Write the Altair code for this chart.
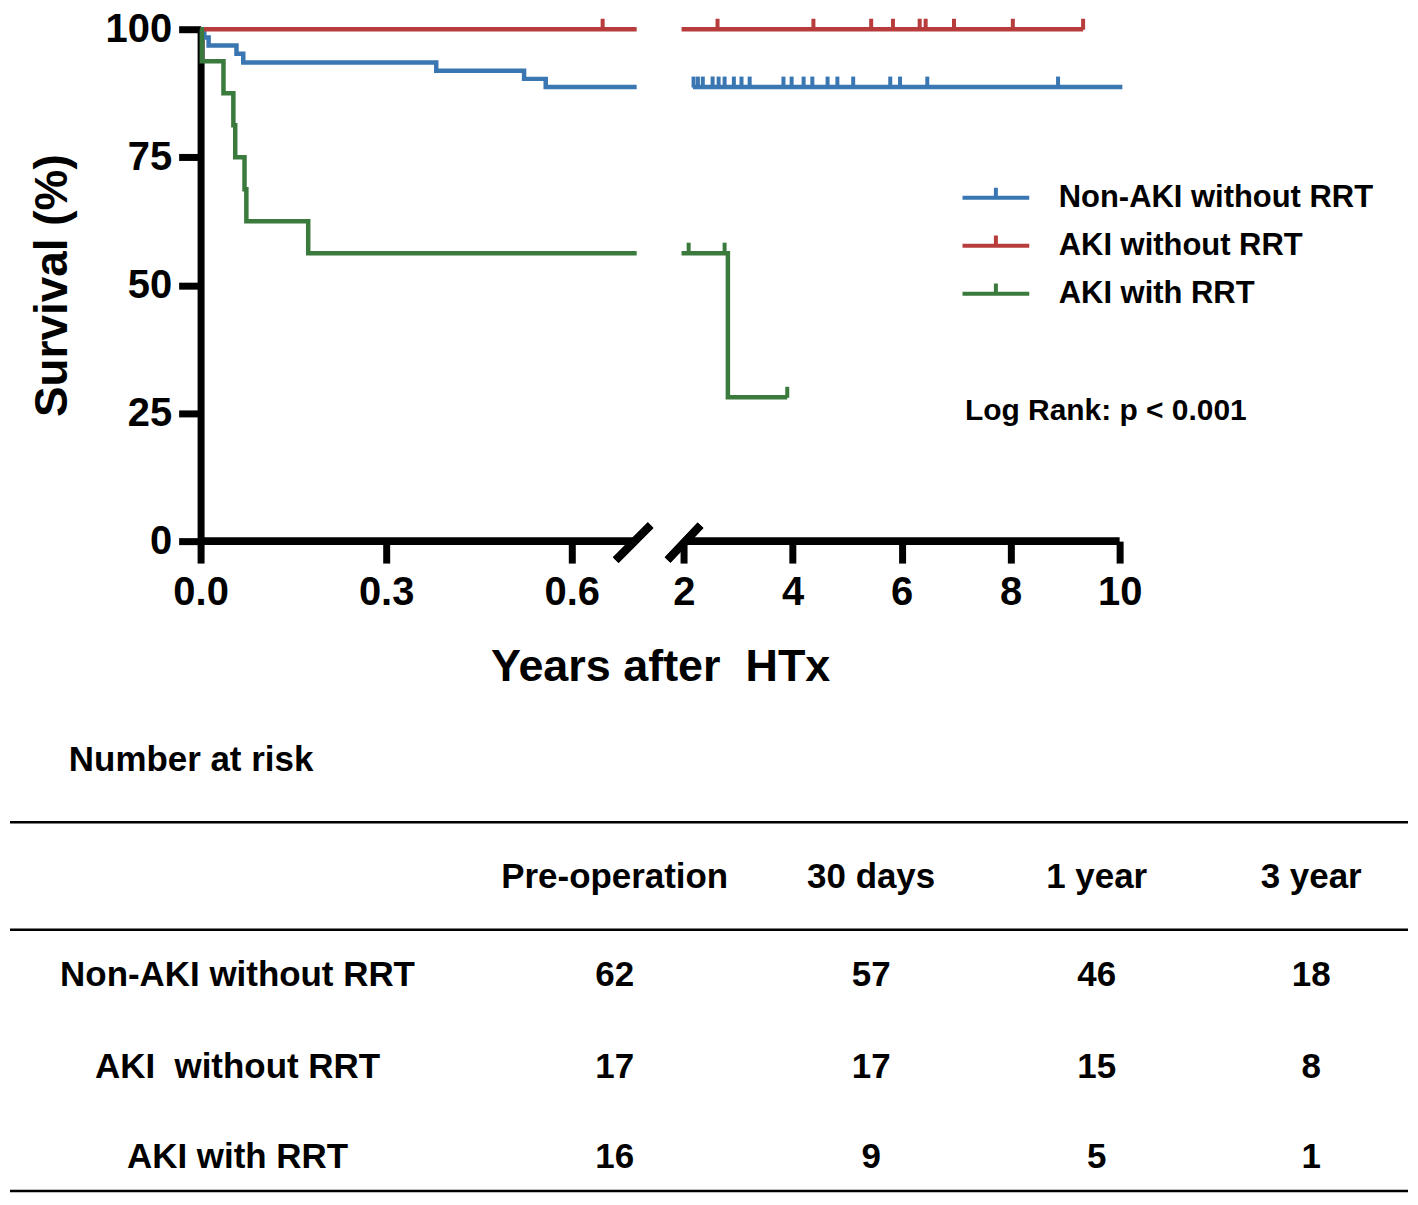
import altair as alt
import pandas as pd

FONT = "Liberation Sans"

# ---------------- data ----------------
groups = ["Non-AKI without RRT", "AKI without RRT", "AKI with RRT"]
colors = ["#3A77B2", "#B83C3C", "#3B7A3D"]

# Kaplan-Meier step curves: years after HTx, survival (%)
# left part of the broken axis (0 - 0.705 y) and right part (after the break)
nonaki_left_t = [0, 0.006, 0.013, 0.058, 0.069, 0.381, 0.523, 0.558, 0.705]
nonaki_left_s = [100, 98.4, 96.8, 95.2, 93.5, 91.9, 90.3, 88.7, 88.7]
nonaki_right_t = [2.17, 10.05]
nonaki_right_s = [88.7, 88.7]
nonaki_cens_t = [2.18, 2.26, 2.35, 2.53, 2.64, 2.75, 2.92, 3.06, 3.21, 3.83,
                 3.98, 4.20, 4.36, 4.64, 4.82, 5.11, 5.79, 5.97, 6.47, 8.87]
nonaki_cens_s = [88.7] * len(nonaki_cens_t)

aki_left_t = [0, 0.705]
aki_left_s = [100, 100]
aki_right_t = [1.96, 9.33]
aki_right_s = [100, 100]
aki_cens_t = [0.65, 2.62, 4.38, 5.44, 5.84, 6.33, 6.44, 6.96, 8.04, 9.33]
aki_cens_s = [100] * len(aki_cens_t)

rrt_left_t = [0, 0.002, 0.037, 0.053, 0.056, 0.071, 0.074, 0.174, 0.705]
rrt_left_s = [100, 93.75, 87.5, 81.25, 75, 68.75, 62.5, 56.25, 56.25]
rrt_right_t = [1.96, 2.81, 3.9]
rrt_right_s = [56.25, 28.1, 28.1]
rrt_cens_t = [2.09, 2.75, 3.9]
rrt_cens_s = [56.25, 56.25, 28.1]

x_ticks = [0, 0.3, 0.6, 2, 4, 6, 8, 10]
y_ticks = [0, 25, 50, 75, 100]

# axis line pieces on both sides of the break (years)
axis_seg_start = [0, 2.05]
axis_seg_end = [0.702, 10]

logrank_text = "Log Rank: p < 0.001"
logrank_pos = (7.16, 25.4)

# number at risk table
col_headers = ["Pre-operation", "30 days", "1 year", "3 year"]
row_labels = ["Non-AKI without RRT", "AKI\u00a0 without RRT", "AKI with RRT"]
at_risk = [[62, 57, 46, 18],
           [17, 17, 15, 8],
           [16, 9, 5, 1]]
table_title = "Number at risk"

# ---------------- build tables ----------------
curve_rows = []
cens_rows = []
curve_sets = [
    (groups[0], [(nonaki_left_t, nonaki_left_s), (nonaki_right_t, nonaki_right_s)], nonaki_cens_t, nonaki_cens_s),
    (groups[1], [(aki_left_t, aki_left_s), (aki_right_t, aki_right_s)], aki_cens_t, aki_cens_s),
    (groups[2], [(rrt_left_t, rrt_left_s), (rrt_right_t, rrt_right_s)], rrt_cens_t, rrt_cens_s),
]
for g, segs, ct, cs_ in curve_sets:
    for k, (ts, ss) in enumerate(segs):
        for t, s in zip(ts, ss):
            curve_rows.append({"group": g, "seg": f"{g}-{k}", "t": t, "s": s})
    for t, s in zip(ct, cs_):
        cens_rows.append({"group": g, "t": t, "s": s})
curve_df = pd.DataFrame(curve_rows)
cens_df = pd.DataFrame(cens_rows)
axis_df = pd.DataFrame({"t": axis_seg_start, "t2": axis_seg_end, "s": [0, 0]})
logrank_df = pd.DataFrame({"t": [logrank_pos[0]], "s": [logrank_pos[1]], "label": [logrank_text]})

cells = []
for j, h in enumerate(col_headers):
    cells.append({"col": j + 1, "row": 0, "label": h})
for i, r in enumerate(row_labels):
    cells.append({"col": 0, "row": i + 1, "label": r})
    for j, v in enumerate(at_risk[i]):
        cells.append({"col": j + 1, "row": i + 1, "label": str(v)})
cell_df = pd.DataFrame(cells)
line_df = pd.DataFrame({"row": [-0.565, 0.535, 3.38]})
ttl_df = pd.DataFrame({"row": [-1.205], "label": [table_title]})

# ---------------- scales ----------------
W, H = 921, 513
xs = alt.Scale(domain=[0, 0.705, 1.96, 10], range=[0, 437, 482, W], nice=False, zero=False)
ys = alt.Scale(domain=[0, 100], nice=False)
cscale = alt.Scale(domain=groups, range=colors)
txs = alt.Scale(domain=[0, 1, 2, 3, 4], range=[37, 415, 672, 898, 1113], nice=False, zero=False)
tys = alt.Scale(domain=[0, 1, 2, 3], range=[850, 948, 1040, 1130], nice=False, zero=False)

x_axis = alt.Axis(values=x_ticks, domain=False, grid=False,
                  labelExpr="datum.value < 1 ? format(datum.value, '.1f') : format(datum.value, 'd')",
                  tickSize=22, tickWidth=7, tickColor="black",
                  labelFont=FONT, labelFontSize=40, labelFontWeight="bold", labelColor="black",
                  labelPadding=10, labelFlush=False, labelOverlap=False,
                  title="Years after\u00a0 HTx", titleFont=FONT, titleFontSize=45,
                  titleFontWeight="bold", titleColor="black", titlePadding=32)
y_axis = alt.Axis(values=y_ticks, grid=False, domainWidth=7, domainColor="black",
                  tickSize=22, tickWidth=7, tickColor="black",
                  labelFont=FONT, labelFontSize=40, labelFontWeight="bold", labelColor="black",
                  labelPadding=7, labelFlush=False, labelOverlap=False,
                  title="Survival (%)", titleFont=FONT, titleFontSize=46,
                  titleFontWeight="bold", titleColor="black", titlePadding=29)

legend = alt.Legend(title=None, orient="none", legendX=780, legendY=152,
                    labelFont=FONT, labelFontSize=31, labelFontWeight="bold", labelColor="black",
                    labelLimit=0,
                    symbolType="M-2.23,0H2.23M0,0V-0.68", symbolSize=900, symbolStrokeWidth=4,
                    labelOffset=46, rowPadding=14)

# ---------------- KM part ----------------
lines = alt.Chart(curve_df).mark_line(interpolate="step-after", strokeWidth=4.5).encode(
    x=alt.X("t:Q", scale=xs, axis=x_axis),
    y=alt.Y("s:Q", scale=ys, axis=y_axis),
    color=alt.Color("group:N", scale=cscale, legend=legend, sort=groups),
    detail="seg:N",
)
ticks = alt.Chart(cens_df).mark_tick(orient="vertical", thickness=4, size=11, yOffset=-5, opacity=1).encode(
    x=alt.X("t:Q", scale=xs),
    y=alt.Y("s:Q", scale=ys),
    color=alt.Color("group:N", scale=cscale, legend=None),
)
axis_rules = alt.Chart(axis_df).mark_rule(strokeWidth=8, color="black").encode(
    x=alt.X("t:Q", scale=xs), x2="t2:Q", y=alt.Y("s:Q", scale=ys),
)
slash1 = alt.Chart(axis_df).mark_rule(strokeWidth=8, color="black").encode(
    x=alt.value(416), x2=alt.value(451), y=alt.value(532), y2=alt.value(497))
slash2 = alt.Chart(axis_df).mark_rule(strokeWidth=8, color="black").encode(
    x=alt.value(468), x2=alt.value(501), y=alt.value(532), y2=alt.value(497))
logrank = alt.Chart(logrank_df).mark_text(align="left", baseline="middle", font=FONT,
                                          fontSize=30, fontWeight="bold", color="black").encode(
    x=alt.X("t:Q", scale=xs), y=alt.Y("s:Q", scale=ys), text="label:N")

km = alt.layer(axis_rules, lines, ticks, logrank, slash1, slash2)

# ---------------- table part ----------------
tbl_text = alt.Chart(cell_df).mark_text(baseline="middle", align="center", font=FONT,
                                        fontSize=35, fontWeight="bold", color="black").encode(
    x=alt.X("col:Q", scale=txs, axis=None),
    y=alt.Y("row:Q", scale=tys, axis=None),
    text="label:N",
)
tbl_lines = alt.Chart(line_df).mark_rule(strokeWidth=2.5, color="black").encode(
    x=alt.value(-191), x2=alt.value(1210),
    y=alt.Y("row:Q", scale=tys, axis=None),
)
tbl_title = alt.Chart(ttl_df).mark_text(baseline="middle", align="left", font=FONT,
                                        fontSize=35, fontWeight="bold", color="black").encode(
    x=alt.value(-132),
    y=alt.Y("row:Q", scale=tys, axis=None),
    text="label:N",
)
table = alt.layer(tbl_lines, tbl_text, tbl_title)

chart = alt.layer(km, table).resolve_scale(x="independent", y="independent").properties(
    width=W, height=H, padding={"left": 0, "top": 0, "right": 0, "bottom": 0},
    background="white",
).configure_view(stroke=None)

chart.save("out.html", embed_options={"renderer": "svg", "actions": False})
